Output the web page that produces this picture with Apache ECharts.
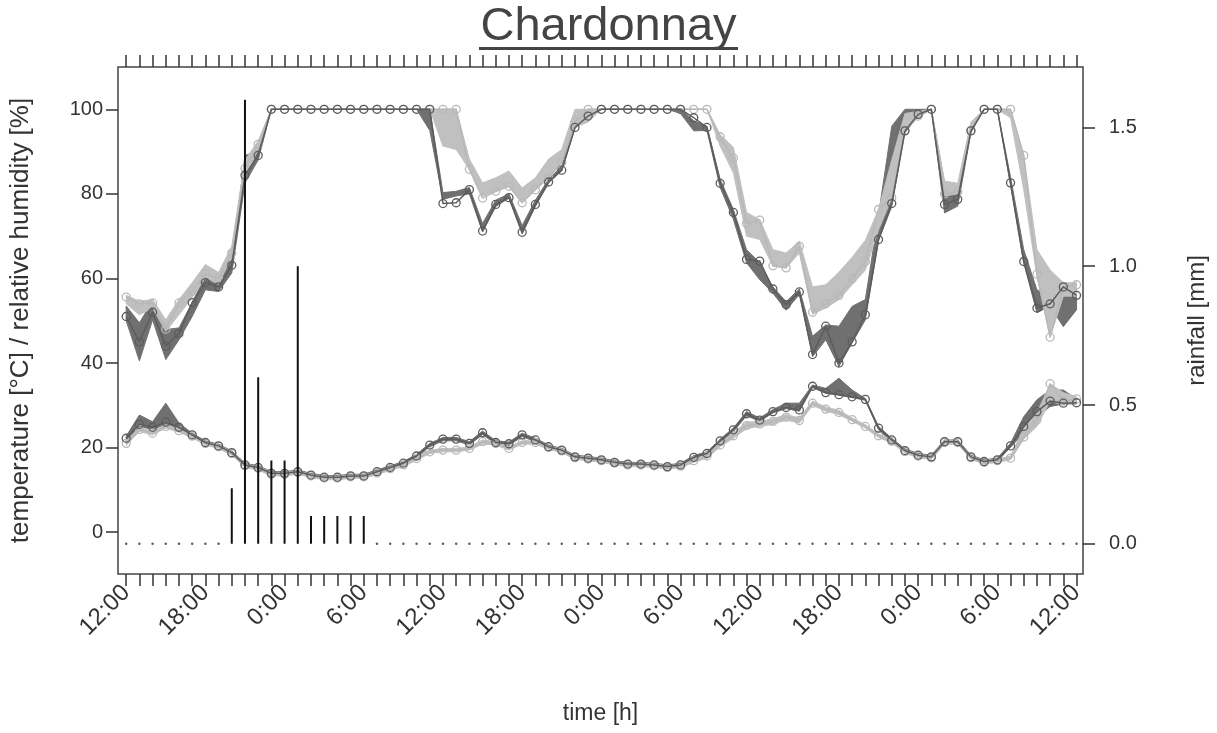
<!DOCTYPE html>
<html><head><meta charset="utf-8">
<script src="https://cdn.jsdelivr.net/npm/echarts@6/dist/echarts.min.js"></script>
<style>html,body{margin:0;padding:0;background:#fff}#c{width:1217px;height:733px}</style>
</head><body><div id="c"></div>
<script>
// hours since 12:00 on day 1
const hours = [0,1,2,3,4,5,6,7,8,9,10,11,12,13,14,15,16,17,18,19,20,21,22,23,24,25,26,27,28,29,30,31,32,33,34,35,36,37,38,39,40,41,42,43,44,45,46,47,48,49,50,51,52,53,54,55,56,57,58,59,60,61,62,63,64,65,66,67,68,69,70,71,72];
const labelHours = [0,6,12,18,24,30,36,42,48,54,60,66,72];
const tickLabels = ['12:00','18:00','0:00','6:00','12:00','18:00','0:00','6:00','12:00','18:00','0:00','6:00','12:00'];
const leftTicks = [0,20,40,60,80,100];
const rightTicks = [0,0.5,1,1.5];

// rainfall [mm]
const rain = [0,0,0,0,0,0,0,0,0.2,1.6,0.6,0.3,0.3,1.0,0.1,0.1,0.1,0.1,0.1,0,0,0,0,0,0,0,0,0,0,0,0,0,0,0,0,0,0,0,0,0,0,0,0,0,0,0,0,0,0,0,0,0,0,0,0,0,0,0,0,0,0,0,0,0,0,0,0,0,0,0,0,0,0];

// relative humidity, dark sensor
const rhDark = [51,45,52,44,47,54.3,59,58,63.1,84.4,89.1,
 100,100,100,100,100,100,100,100,100,100,100,100,100,
 77.7,77.9,81,71.2,77.5,79.1,70.9,77.5,82.8,85.6,95.7,98.4,
 100,100,100,100,100,100,100,
 98,95.7,82.5,75.6,64.5,64.1,57.5,53.8,56.8,42,48.7,40,45,51.4,69.2,77.7,94.9,98.8,100,77.5,78.7,94.9,100,100,82.6,64,53,54,58,56];
const rhDarkLo = [50,40.5,50.2,40.8,45.5,51,57.3,56.9,61.3,82.6,88,
 100,100,100,100,100,100,100,100,100,100,100,100,95,
 78.7,79.5,80,71,77,79,70.5,77,82.5,85.5,95.5,98,
 100,100,100,100,100,100,99,
 94.9,95,81.5,74,63.7,59.7,56.5,52.5,56.2,41.5,45.5,39.2,44.8,50.2,69,77,94.5,98.3,100,75.5,77.1,94.5,100,100,82,63.7,51.9,53.4,48.6,52.6];
const rhDarkHi = [53.5,49.5,54.6,47.9,48.3,54.3,60.5,59.3,64.4,89,90.5,
 100,100,100,100,100,100,100,100,100,100,100,100,100,
 80.3,80.6,81.5,73,78.5,80,72.5,78.5,83.5,86.5,97,99.5,
 100,100,100,100,100,100,100,
 97.3,96,83.5,76.3,66.8,63.7,58,54.5,57.5,46.3,49,48.7,53.4,55,75,96,100,100,100,82.6,80.3,96,100,100,84,66.8,57.3,55.8,59,57.3];

// relative humidity, light sensor
const rhLight = [55.6,54,54.2,48,54.2,57,61,60,66,86,91.7,
 100,100,100,100,100,100,100,100,100,100,100,100,100,
 100,100,85.8,79,80.6,81.8,77.9,81,83.8,87.4,97,100,
 100,100,100,100,100,100,100,
 100,100,93.5,88.5,73,73.8,63,62.5,67.6,52,54,56,60,64,76.3,79.1,95,98.4,100,80,80.5,95,100,100,100,89.1,61,46.1,58,58.5];
const rhLightLo = [54,51.4,53,47.5,51.4,55.5,60.2,58.6,65.2,84,90.5,
 100,100,100,100,100,100,100,100,100,100,100,100,100,
 91.3,90.5,85.8,79.5,80.6,81.8,78.3,81,83.8,87.4,95.7,97,
 100,100,100,100,100,100,100,
 100,100,91.3,85,70,69.2,62.9,62.5,66,51.5,53,55,58.5,62,71.5,79,95,98,100,79.5,80,95,100,100,98,81,60.5,46.1,55.8,55.8];
const rhLightHi = [56,54.6,55,50.2,55,59,63.3,61.4,67.6,88,92.5,
 100,100,100,100,100,100,100,100,100,100,100,100,100,
 100,100,88.2,82.6,83.8,85.4,81.4,83.8,88.2,90.5,100,100,
 100,100,100,100,100,100,100,
 100,100,94,91,75.6,73.9,66.8,66,68.8,58,58.5,61.5,65,69,76.3,88,99,99.5,100,83,82.5,97,100,100,100,89.1,66.8,62,59,59];

// temperature, dark sensor
const tDark = [22.2,25.5,24.8,26,24.8,23,21.2,20.4,18.8,15.9,15.3,13.9,13.9,14.3,13.5,13,13,13.3,13.3,14.3,15.3,16.3,18,20.6,
 22,22,21,23.5,21.2,20.9,23,21.8,20.2,19.4,17.8,17.5,17.1,16.5,16.1,16.1,15.9,15.5,15.9,17.7,18.6,21.6,24.2,28,
 26.5,28.5,29.5,28.9,34.5,33,32.5,32,31.4,24.6,21.8,19.3,18.2,17.8,21.4,21.4,17.8,16.7,17.1,20.4,25,28.5,31,30.5,30.6];
const tDarkLo = [21.7,25,24.3,25.5,24.4,22.6,20.8,20,18.4,15.5,14.9,13.5,13.5,13.9,13.1,12.6,12.6,12.9,12.9,13.9,14.9,15.9,17.6,20.2,
 21.6,21.6,20.6,23.1,20.8,20.5,22.6,21.4,19.8,19,17.4,17.1,16.7,16.1,15.7,15.7,15.5,15.1,15.5,17.3,18.2,21.2,23.8,27.5,
 26.2,28.2,29.2,28.6,34.2,32.8,32.4,31.8,31.2,24.2,21.4,18.9,17.8,17.4,21,21,17.4,16.3,16.7,20.1,23.4,27.3,29.7,30.3,30.3];
const tDarkHi = [22.7,27.7,26.1,30.5,25.8,23.4,21.6,20.8,19.2,16.3,15.7,14.3,14.3,14.7,13.9,13.4,13.4,13.7,13.7,14.7,15.7,16.7,18.4,21,
 22.4,22.4,21.4,23.9,21.6,21.3,23.4,22.2,20.6,19.8,18.2,17.9,17.5,16.9,16.5,16.5,16.3,15.9,16.3,18.1,19,22,24.6,28.5,
 27,29,30.5,30.5,34.8,34,36.4,33.6,31.6,25,22.2,19.7,18.6,18.2,21.8,21.8,18.2,17.1,17.5,21,27.3,31.3,33.6,33.6,31.5];

// temperature, light sensor
const tLight = [21,24.3,23.4,25,24,22.7,21,20.2,18.6,15.7,15.1,13.7,13.7,14.1,13.3,12.8,12.8,13.1,13.1,14,15,15.9,17.4,19,
 19.4,19.4,19.8,21.4,21,19.8,21.2,21.2,20,19.2,17.6,17.3,16.9,16.3,15.9,15.9,15.7,15.3,15.6,16.9,18,20.6,22.8,25.2,
 25.6,26.2,27.2,26.4,30.5,29.1,28.3,26.6,25,22.8,21.5,19.1,18,17.6,21.2,21.2,17.6,16.5,16.9,17.5,22.5,26.5,35.1,31,31.5];
const tLightLo = [20.5,23.8,23,24.6,23.6,22.3,20.6,19.8,18.2,15.3,14.7,13.3,13.3,13.7,12.9,12.4,12.4,12.7,12.7,13.6,14.6,15.5,17,18.6,
 19,19,19.4,20.8,20.6,19.4,20.8,20.8,19.6,18.8,17.2,16.9,16.5,15.9,15.5,15.5,15.3,14.9,15.2,16.5,17.5,20.2,22.2,24.5,
 25,25.5,26.5,25.8,30,28.6,27.8,26.2,24.6,22.4,21.1,18.7,17.6,17.2,20.8,20.8,17.2,16.1,16.5,17.1,22,25,31,30,30.5];
const tLightHi = [21.5,24.8,23.8,25.4,24.4,23.1,21.4,20.6,19,16.1,15.5,14.1,14.1,14.5,13.7,13.2,13.2,13.5,13.5,14.4,15.4,16.3,17.8,19.4,
 19.8,19.8,20.2,21.8,21.4,20.2,21.6,21.6,20.4,19.6,18,17.7,17.3,16.7,16.3,16.3,16.1,15.7,16,17.3,18.5,21.2,23.5,26,
 26.2,26.8,27.8,27,31,29.6,28.8,27,25.4,23.2,21.9,19.5,18.4,18,21.6,21.6,18,16.9,17.3,18,24.5,28.2,35.1,33,32];

const DARK_BAND = '#707070', LIGHT_BAND = '#c0c0c0';
const DARK_LINE = '#5c5c5c', LIGHT_LINE = '#b8b8b8';
const FONT = "'Liberation Sans', Arial, sans-serif";
const AX = '#333';

function bandSeries(lo, hi, color, z) {
  return {
    type: 'custom', xAxisIndex: 0, yAxisIndex: 0, z: z, silent: true,
    data: [[hours[0], lo[0]]],
    renderItem: function (params, api) {
      const pts = [];
      for (let i = 0; i < hours.length; i++) pts.push(api.coord([hours[i], hi[i]]));
      for (let i = hours.length - 1; i >= 0; i--) pts.push(api.coord([hours[i], lo[i]]));
      return { type: 'polygon', shape: { points: pts }, style: { fill: color, stroke: color, lineWidth: 1 } };
    }
  };
}
function lineSeries(vals, color, z) {
  return {
    type: 'line', xAxisIndex: 0, yAxisIndex: 0, z: z, silent: true,
    data: hours.map((h, i) => [h, vals[i]]),
    symbol: 'circle', symbolSize: 8, showSymbol: true, showAllSymbol: true,
    lineStyle: { color: color, width: 1.5 },
    itemStyle: { color: 'rgba(0,0,0,0)', borderColor: color, borderWidth: 1.3 }
  };
}
const tickStyle = { color: AX, width: 1.5 };

const chart = echarts.init(document.getElementById('c'), null, { renderer: 'canvas' });
chart.setOption({
  animation: false,
  backgroundColor: '#fff',
  textStyle: { fontFamily: FONT },
  graphic: [
    { type: 'text', left: 'center', top: 4, style: { text: 'Chardonnay', font: "47px 'Liberation Sans', Arial, sans-serif", fill: '#444' } },
    { type: 'rect', left: 'center', top: 47, shape: { width: 259, height: 3 }, style: { fill: '#444' } }
  ],
  grid: { left: 114, right: 131, top: 67, bottom: 159, show: true, borderColor: '#444', borderWidth: 1.5, backgroundColor: 'transparent' },
  xAxis: [
    {
      type: 'value', position: 'bottom', min: -0.62, max: 72.49,
      axisLine: { show: false, onZero: false }, splitLine: { show: false },
      axisTick: { show: true, length: 12, customValues: hours, lineStyle: tickStyle },
      axisLabel: {
        customValues: labelHours, rotate: 45, margin: 15, fontSize: 24, color: AX, fontFamily: FONT,
        formatter: v => tickLabels[labelHours.indexOf(Math.round(v))]
      },
      name: 'time [h]', nameLocation: 'middle', nameGap: 128,
      nameTextStyle: { fontSize: 23, color: AX, fontFamily: FONT }
    },
    {
      type: 'value', position: 'top', min: -0.62, max: 72.49,
      axisLine: { show: false, onZero: false }, splitLine: { show: false },
      axisTick: { show: true, length: 12, customValues: hours, lineStyle: tickStyle },
      axisLabel: { show: false }
    }
  ],
  yAxis: [
    {
      type: 'value', position: 'left', min: -9.9, max: 110,
      axisLine: { show: false, onZero: false }, splitLine: { show: false },
      axisTick: { show: true, length: 12, customValues: leftTicks, lineStyle: tickStyle },
      axisLabel: { customValues: leftTicks, margin: 15, fontSize: 20, color: AX, fontFamily: FONT },
      name: 'temperature [°C] / relative humidity [%]', nameLocation: 'middle', nameRotate: 90, nameGap: 84,
      nameTextStyle: { fontSize: 26, color: AX, fontFamily: FONT }
    },
    {
      type: 'value', position: 'right', min: -0.109, max: 1.718,
      axisLine: { show: false, onZero: false }, splitLine: { show: false },
      axisTick: { show: true, length: 12, customValues: rightTicks, lineStyle: tickStyle },
      axisLabel: { customValues: rightTicks, margin: 26, fontSize: 20, color: AX, fontFamily: FONT, formatter: v => v.toFixed(1) },
      name: 'rainfall [mm]', nameLocation: 'middle', nameRotate: 90, nameGap: 102,
      nameTextStyle: { fontSize: 24, color: AX, fontFamily: FONT }
    }
  ],
  series: [
    bandSeries(rhDarkLo, rhDarkHi, DARK_BAND, 1),
    bandSeries(tDarkLo, tDarkHi, DARK_BAND, 1),
    bandSeries(rhLightLo, rhLightHi, LIGHT_BAND, 2),
    bandSeries(tLightLo, tLightHi, LIGHT_BAND, 2),
    lineSeries(rhLight, LIGHT_LINE, 3),
    lineSeries(tLight, LIGHT_LINE, 3),
    lineSeries(rhDark, DARK_LINE, 4),
    lineSeries(tDark, DARK_LINE, 4),
    {
      type: 'bar', xAxisIndex: 0, yAxisIndex: 1, z: 6, silent: true,
      data: hours.map((h, i) => [h, rain[i]]), barWidth: 2,
      itemStyle: { color: '#111' }
    },
    {
      type: 'scatter', xAxisIndex: 0, yAxisIndex: 1, z: 6, silent: true,
      data: hours.filter((h, i) => rain[i] === 0).map(h => [h, 0]),
      symbolSize: 2.5, itemStyle: { color: '#333' }
    }
  ]
});
</script>
</body></html>
